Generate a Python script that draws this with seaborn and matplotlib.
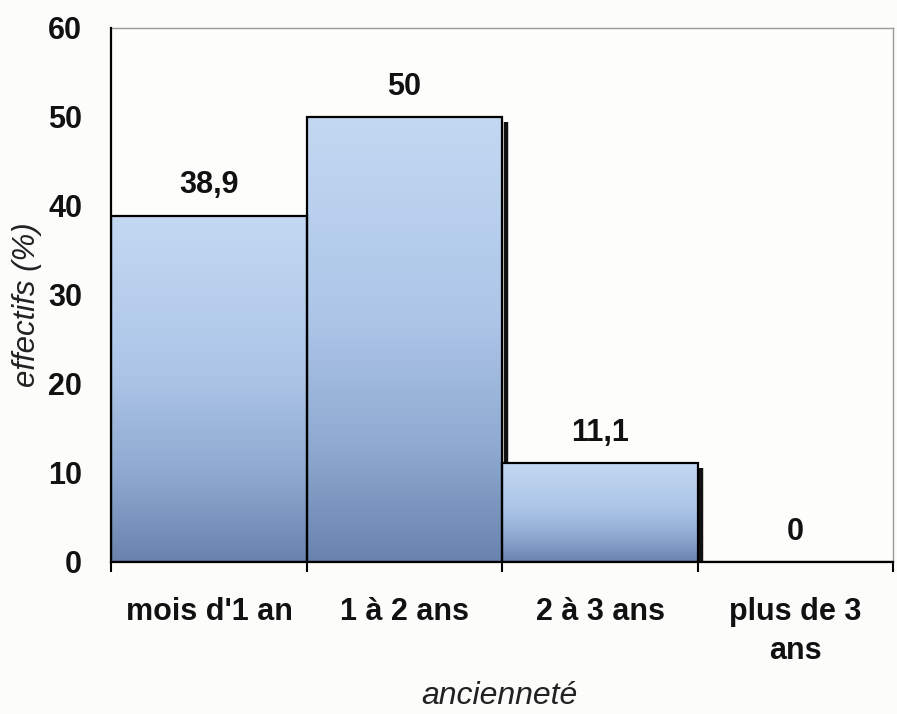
import numpy as np
import matplotlib
matplotlib.use("Agg")
import matplotlib.pyplot as plt
import seaborn as sns
from matplotlib.colors import LinearSegmentedColormap

categories = ["mois d'1 an", "1 à 2 ans", "2 à 3 ans", "plus de 3\nans"]
values = [38.9, 50, 11.1, 0]
value_labels = ["38,9", "50", "11,1", "0"]
y_ticks = [0, 10, 20, 30, 40, 50, 60]

sns.set_theme(style="white")
plt.rcParams['font.family'] = ['Liberation Sans', 'DejaVu Sans']

fig = plt.figure(figsize=(8.97, 7.14), dpi=100, facecolor='#fcfcfa')
ax = fig.add_axes([0.124, 0.213, 0.872, 0.748])
ax.set_facecolor('#fdfdfc')

sns.barplot(x=categories, y=values, color='#9bb5d8', width=1.0,
            edgecolor='black', linewidth=1.6, ax=ax, zorder=3)

cmap = LinearSegmentedColormap.from_list('g', [(0.0, '#c3d8f2'), (0.45, '#adc6e8'),
                                               (0.75, '#8ea9d0'), (1.0, '#6983ad')])
grad = np.linspace(0, 1, 256).reshape(-1, 1)
for p in ax.patches:
    x0, y0 = p.get_x(), p.get_y()
    w, h = p.get_width(), p.get_height()
    if h <= 0:
        continue
    im = ax.imshow(grad, cmap=cmap, aspect='auto', extent=[x0, x0 + w, y0, y0 + h],
                   origin='upper', zorder=2, interpolation='bilinear')
    im.set_clip_path(p)
    p.set_facecolor('none')
    # shadow on right side
    off = 0.017
    ax.plot([x0 + w + off, x0 + w + off], [y0, y0 + h - 0.6], color='#111111',
            lw=3.2, zorder=1.5, solid_capstyle='butt')

for p, lab in zip(ax.patches, value_labels):
    ax.annotate(lab, (p.get_x() + p.get_width() / 2, p.get_height()),
                xytext=(0, 16), textcoords='offset points', ha='center', va='baseline',
                fontsize=22, fontweight='bold', color='#111111')

ax.set_xlim(-0.5, 3.5)
ax.set_ylim(0, 60)
ax.set_yticks(y_ticks)
ax.set_yticklabels([str(t) for t in y_ticks], fontsize=22, fontweight='bold', color='#111111')
ax.set_xticks(range(len(categories)))
ax.set_xticklabels(categories, fontsize=22, fontweight='bold', color='#111111', linespacing=1.4)
ax.set_xticks(np.arange(-0.5, 4.0, 1.0), minor=True)
ax.tick_params(axis='x', which='major', length=0, pad=25)
ax.tick_params(axis='x', which='minor', length=7, width=1.5, color='black', direction='out', bottom=True)
ax.tick_params(axis='y', which='major', length=0, pad=21)

for s in ['left', 'bottom']:
    ax.spines[s].set_color('black')
    ax.spines[s].set_linewidth(1.6)
    ax.spines[s].set_zorder(4)
for s in ['top', 'right']:
    ax.spines[s].set_color('#9a9a9a')
    ax.spines[s].set_linewidth(1.0)

ax.set_ylabel('effectifs (%)', fontsize=22.5, fontstyle='italic', color='#222222')
ax.yaxis.set_label_coords(-0.088, 0.481)
fig.text(0.557, 0.014, 'ancienneté', fontsize=23, fontstyle='italic', color='#222222',
         ha='center', va='baseline')

fig.savefig('out.png', dpi=100, facecolor=fig.get_facecolor())
